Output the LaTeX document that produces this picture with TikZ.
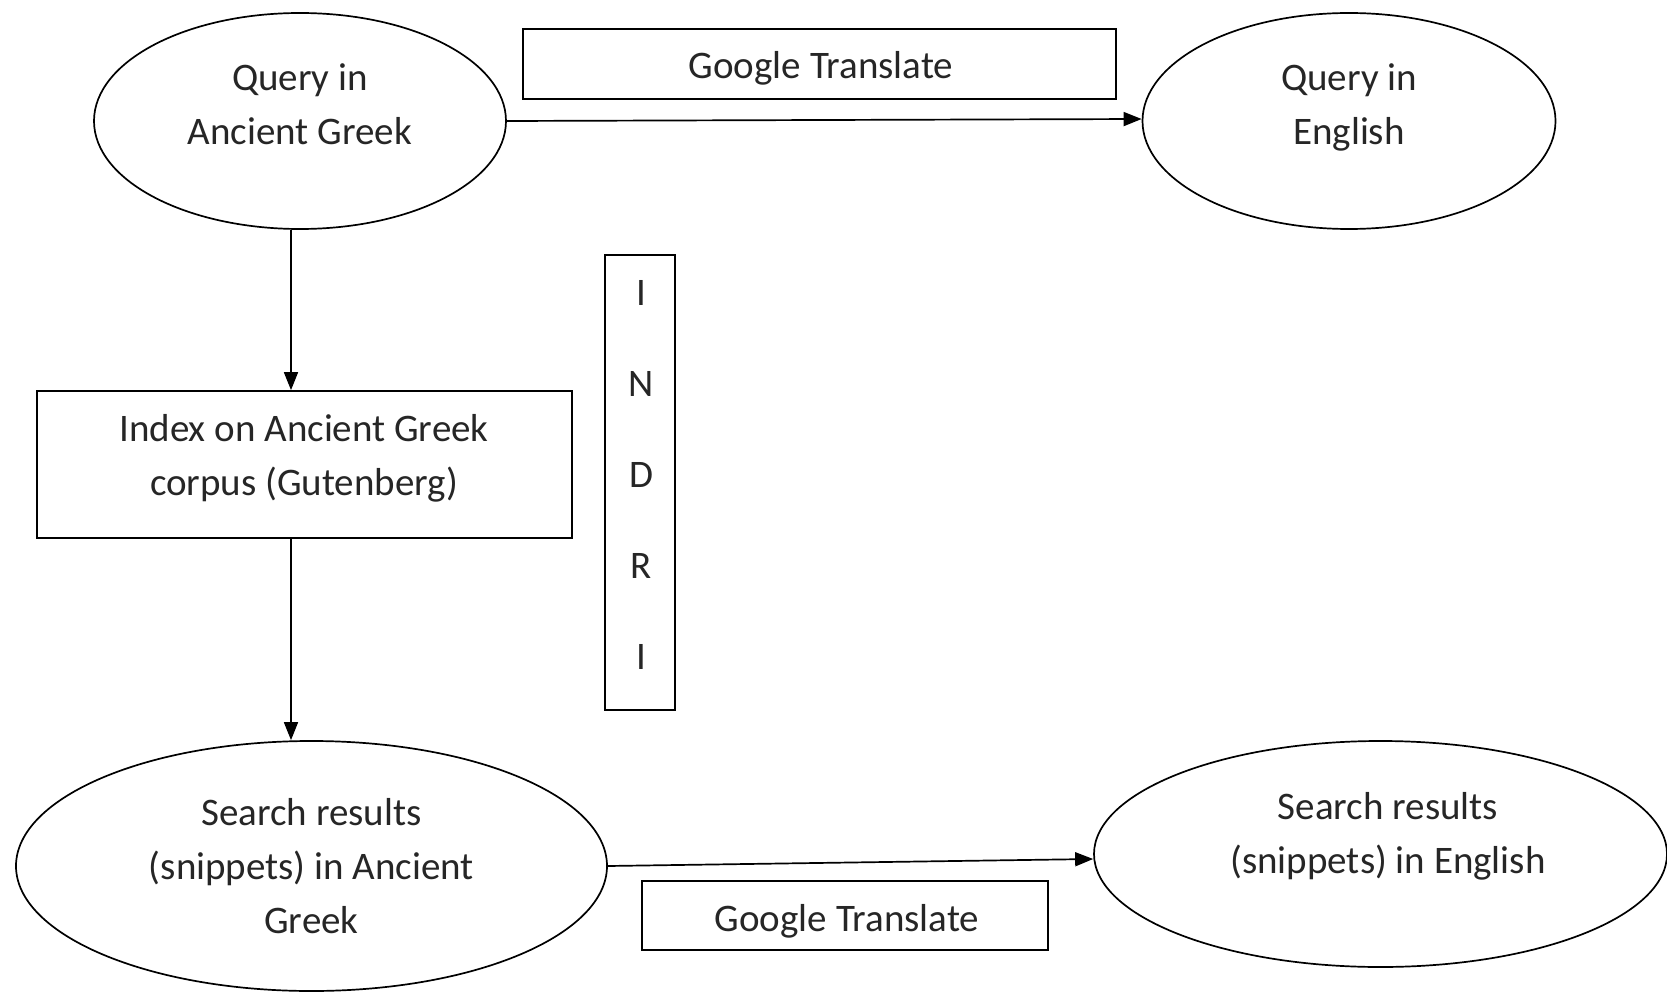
\documentclass[tikz,border=0pt]{standalone}
\usepackage{fontspec}
\setmainfont{Carlito}
\usetikzlibrary{shapes.geometric,arrows.meta}
\begin{document}
\begin{tikzpicture}[x=1pt,y=-1pt,
  ell/.style={draw, ellipse, line width=1.7pt, inner sep=0pt},
  box/.style={draw, rectangle, line width=1.7pt, inner sep=0pt},
  txt/.style={font=\fontsize{39}{54}\selectfont, align=center, inner sep=0pt, text=black!85},
  arr/.style={line width=1.7pt, -{Triangle[length=18pt,width=14pt]}}]
\useasboundingbox[fill=white] (0,0) rectangle (1667,992);
% shapes
\node[ell, minimum width=412pt, minimum height=216pt] (q1) at (300,121) {};
\node[ell, minimum width=413pt, minimum height=216pt] (q2) at (1349,121) {};
\node[box, minimum width=593pt, minimum height=70pt] (gt1) at (819.5,64) {};
\node[box, minimum width=535pt, minimum height=147pt] (idx) at (304.5,464.5) {};
\node[box, minimum width=70pt, minimum height=455pt] (indri) at (640,482.5) {};
\node[ell, minimum width=591pt, minimum height=250pt] (s1) at (311.5,866) {};
\node[ell, minimum width=573pt, minimum height=226pt] (s2) at (1380.5,854) {};
\node[box, minimum width=406pt, minimum height=69pt] (gt2) at (845,915.5) {};
% texts
\node[txt] (q1t) at (300,104) {Query in\\Ancient Greek};
\node[txt] (q2t) at (1349,107) {Query in\\English};
\node[txt] (gt1t) at (821,68) {Google Translate};
\node[txt] (idxt) at (304,458) {Index on Ancient Greek\\corpus (Gutenberg)};
\node[txt, font=\fontsize{39}{91}\selectfont] (indrit) at (641,475) {I\\N\\D\\R\\I};
\node[txt] (s1t) at (311.5,866) {Search results\\(snippets) in Ancient\\Greek};
\node[txt] (s2t) at (1388,836) {Search results\\(snippets) in English};
\node[txt] (gt2t) at (847,921) {Google Translate};
% connectors
\coordinate (ax) at (291,0);
\draw[arr] (q1.east) -- ([yshift=2pt]q2.west);
\draw[arr] (q1.south -| ax) -- (idx.north -| ax);
\draw[arr] (idx.south -| ax) -- (s1.north -| ax);
\draw[arr] (s1.east) -- ([yshift=-5pt]s2.west);
\end{tikzpicture}
\end{document}
